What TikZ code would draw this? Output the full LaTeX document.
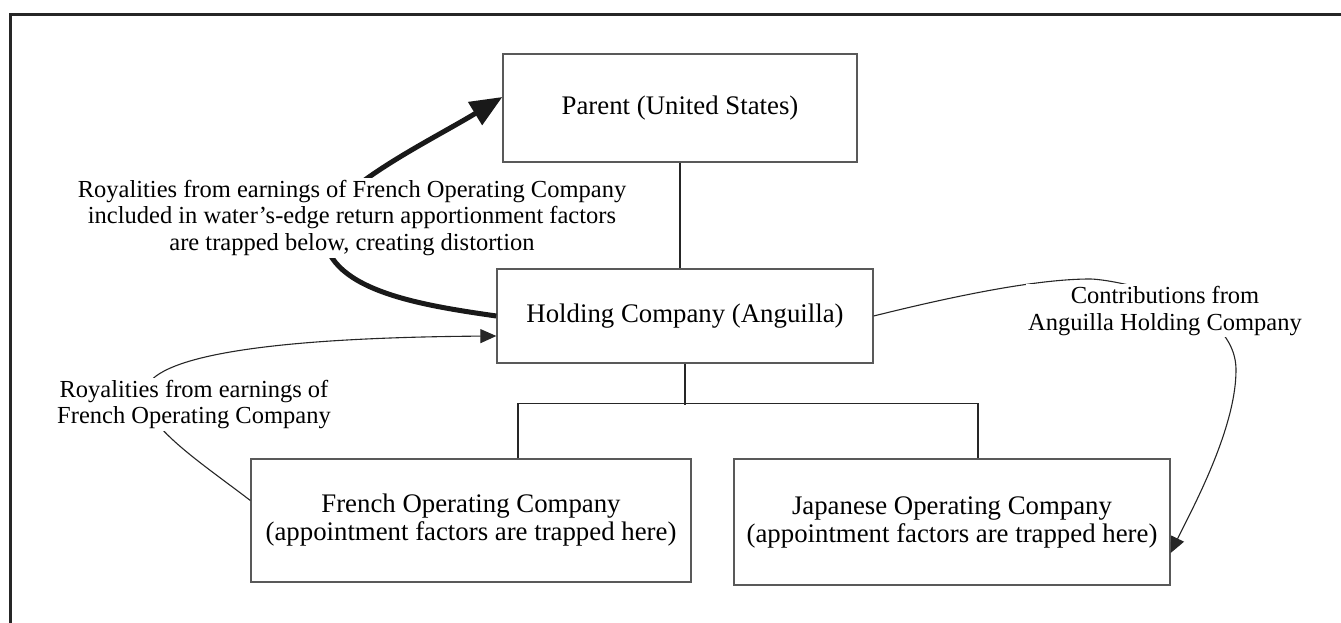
\documentclass[tikz,border=0pt]{standalone}
\usepackage{fontspec}
\setmainfont{Liberation Serif}
\usetikzlibrary{arrows.meta,calc}
\begin{document}
\begin{tikzpicture}[x=1pt,y=-1pt,
  box/.style={draw=black!65, line width=1.3pt, inner sep=0pt, align=center, font=\fontsize{26.8}{28}\selectfont},
  lab/.style={fill=white, inner sep=2pt, align=center, font=\fontsize{24.5}{26.5}\selectfont},
  conn/.style={draw=black!85, line width=1.1pt},
  thinarrow/.style={conn, -{Triangle[length=16pt,width=14pt]}},
  thickarrow/.style={draw=black!90, line width=5pt, -{Triangle[length=32pt,width=26pt]}}]
\useasboundingbox (0,0) rectangle (1341,623);
\draw[black!85, line width=3pt] (10.5,623) -- (10.5,14.7) -- (1341,14.7);

\node[box, minimum width=354pt, minimum height=108pt] (par) at (680,108) {Parent (United States)};
\node[box, minimum width=376pt, minimum height=94pt] (hold) at (685,316) {Holding Company (Anguilla)};
\node[box, minimum width=440pt, minimum height=123pt] (fr) at (471,520.5) {French Operating Company\\(appointment factors are trapped here)};
\node[box, minimum width=436pt, minimum height=126pt] (jp) at (952,522) {Japanese Operating Company\\(appointment factors are trapped here)};

\draw[conn] (par.south) -- (par.south |- hold.north);
\draw[conn] (hold.south) -- ++(0,41);
\draw[conn] ($(fr.north)+(47,0)$) -- ++(0,-55) -| ($(jp.north)+(26,0)$);

\draw[thickarrow] (hold.west) .. controls (420,305) and (321,290) .. (324,228) .. controls (328,190) and (430,141) .. ($(par.west)+(0,-11)$);
\draw[thinarrow] ($(fr.west)+(0,-20)$) .. controls (200,462) and (143,425) .. (145,395) .. controls (143,365) and (220,338) .. ($(hold.west)+(0,20)$);
\draw[thinarrow] (hold.east) .. controls (950,297) and (1035,279) .. (1090,279) .. controls (1110,279) and (1236,300) .. (1236,370) .. controls (1236,430) and (1190,513) .. ($(jp.east)+(0,31)$);

\node[lab] (l1) at (352,217.8) {Royalities from earnings of French Operating Company\\included in water's-edge return apportionment factors\\are trapped below, creating distortion};
\node[lab] (l2) at (194,404.3) {Royalities from earnings of\\French Operating Company};
\node[lab] (l3) at (1165,310.8) {Contributions from\\Anguilla Holding Company};
\end{tikzpicture}
\end{document}
